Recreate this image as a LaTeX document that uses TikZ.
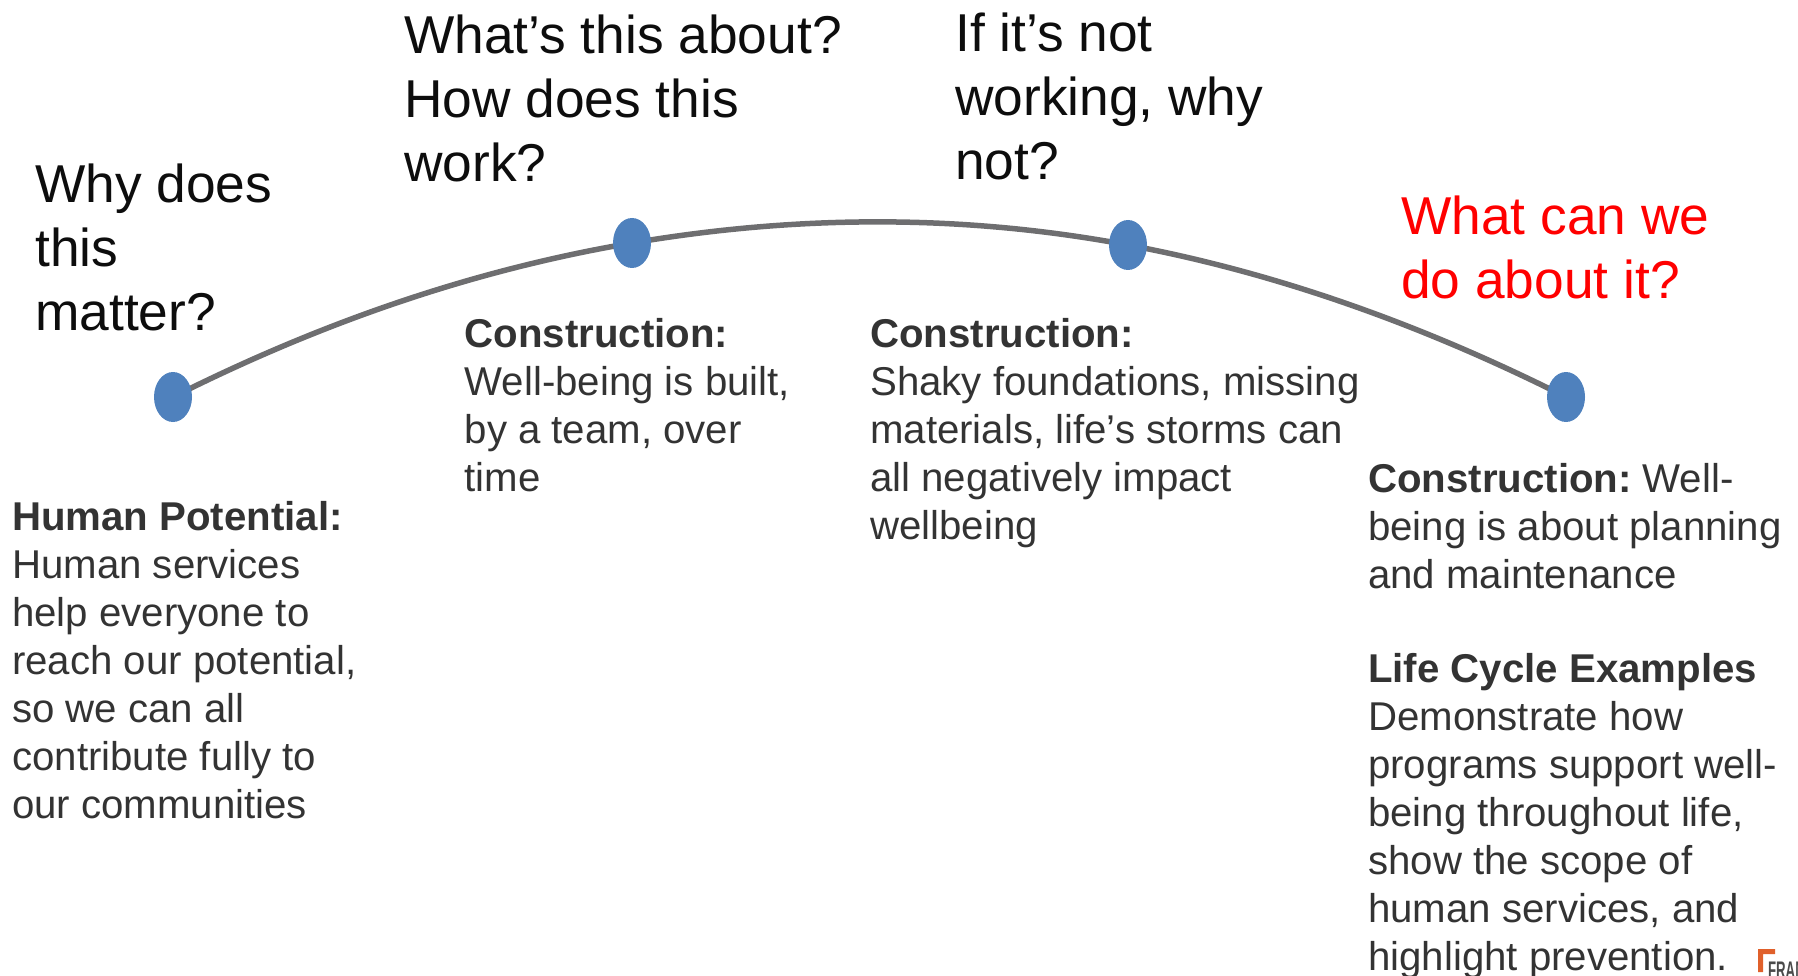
\documentclass[tikz,border=0pt]{standalone}
\usepackage{fontspec}
\setmainfont{Liberation Sans}
\usetikzlibrary{shapes.geometric,backgrounds}
\definecolor{dotblue}{HTML}{4F81BD}
\definecolor{arcgray}{HTML}{6E6E70}
\definecolor{bodygray}{HTML}{333333}
\definecolor{headblack}{HTML}{0D0D0D}
\definecolor{logoorange}{HTML}{E0602B}
\definecolor{logogray}{HTML}{4A4A4A}
\tikzset{
  dotnode/.style={ellipse,fill=dotblue,draw=none,minimum width=38pt,minimum height=50pt,inner sep=0pt},
  arcline/.style={draw=arcgray,line width=5.5pt},
  headtext/.style={anchor=north west,inner sep=0pt,align=left,text=headblack,font=\fontsize{53.3}{64}\selectfont},
  bodytext/.style={anchor=north west,inner sep=0pt,align=left,text=bodygray,font=\fontsize{40.2}{48}\selectfont},
}
\begin{document}
\begin{tikzpicture}[x=1pt,y=-1pt]
\useasboundingbox (0,0) rectangle (1798,976);
\node[dotnode] (d1) at (173,397) {};
\node[dotnode] (d2) at (632,243) {};
\node[dotnode] (d3) at (1128,245) {};
\node[dotnode] (d4) at (1566,397) {};
\begin{pgfonlayer}{background}
\draw[arcline] (d1.center) .. controls (325.7,320.3) and (478.3,269) .. (d2.center);
\draw[arcline] (d2.center) .. controls (796.7,215) and (962.3,214) .. (d3.center);
\draw[arcline] (d3.center) .. controls (1274,272.3) and (1420,323.6) .. (d4.center);
\end{pgfonlayer}

\node[headtext] (q1) at (35,163.5) {Why does\\this\\matter?};
\node[headtext] (q2) at (404,14.5) {What’s this about?\\How does this\\work?};
\node[headtext] (q3) at (955,13) {If it’s not\\working, why\\not?};
\node[headtext,text=red] (q4) at (1401,196) {What can we\\do about it?};

\node[bodytext] (t1) at (12,501.5) {\textbf{Human Potential:}\\Human services\\help everyone to\\reach our potential,\\so we can all\\contribute fully to\\our communities};
\node[bodytext] (t2) at (464.5,318) {\textbf{Construction:}\\Well-being is built,\\by a team, over\\time};
\node[bodytext] (t3) at (870,318.5) {\textbf{Construction:}\\Shaky foundations, missing\\materials, life’s storms can\\all negatively impact\\wellbeing};
\node[bodytext] (t4) at (1368,463.5) {\textbf{Construction:}\kern-4pt{} Well-\\being is about planning\\and maintenance\\[46pt]\textbf{Life Cycle Examples}\\Demonstrate how\\programs support well-\\being throughout life,\\show the scope of\\human services, and\\highlight prevention.};

\fill[logoorange] (1758,949) -- (1775,949) -- (1775,954) -- (1763,954) -- (1763,972) -- (1758,972) -- cycle;
\node[anchor=north west,inner sep=0pt,text=logogray,font=\bfseries\fontsize{24}{24}\selectfont,xscale=.55,transform shape] (logo) at (1768,962) {FRAM};
\end{tikzpicture}
\end{document}
